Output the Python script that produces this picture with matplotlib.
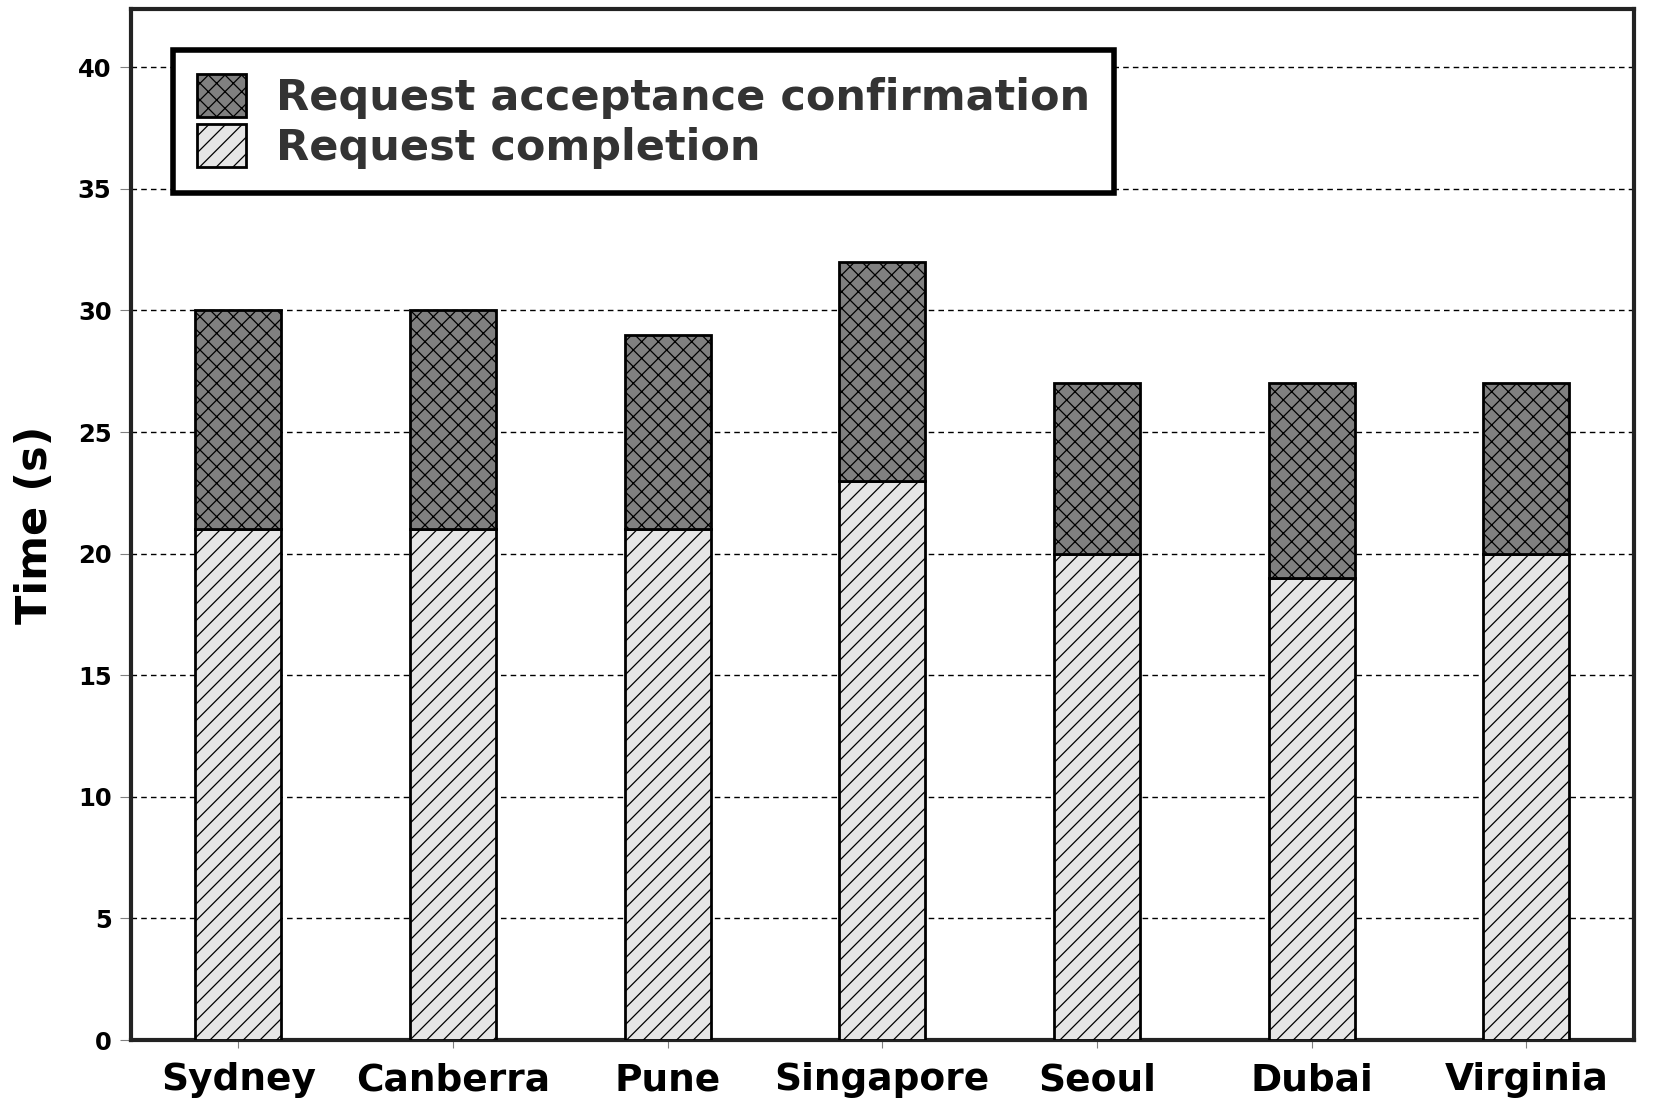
import numpy as np
import matplotlib
matplotlib.use("Agg")
import matplotlib.pyplot as plt

cities = ["Sydney", "Canberra", "Pune", "Singapore", "Seoul", "Dubai", "Virginia"]
completion = [21, 21, 21, 23, 20, 19, 20]
acceptance = [9, 9, 8, 9, 7, 8, 7]
yticks = [0, 5, 10, 15, 20, 25, 30, 35, 40]

plt.rcParams['hatch.linewidth'] = 0.9
plt.rcParams['font.family'] = ['DejaVu Sans']

fig = plt.figure(figsize=(16.67, 11.2), dpi=100)
ax = fig.add_axes([0.0786, 0.0714, 0.9014, 0.9206])

x = np.arange(len(cities))
w = 0.40
b1 = ax.bar(x, completion, w, color='#e6e6e6', edgecolor='black', hatch='//',
            linewidth=2, label='Request completion', zorder=3)
b2 = ax.bar(x, acceptance, w, bottom=completion, color='#808080', edgecolor='black',
            hatch='xx', linewidth=2, label='Request acceptance confirmation', zorder=3)

ax.set_xlim(-0.5, 6.5)
ax.set_ylim(0, 42.4)
ax.set_yticks(yticks)
ax.set_xticks(x)
ax.set_xticklabels(cities, fontsize=27, fontweight='bold')
ax.set_yticklabels([str(v) for v in yticks], fontsize=17.5, fontweight='bold')
ax.tick_params(axis='y', length=8, color='gray', pad=6)
ax.tick_params(axis='x', length=6, color='gray', pad=10)
ax.set_ylabel('Time (s)', fontsize=31, fontweight='bold', labelpad=16)

ax.yaxis.grid(True, linestyle=(0, (4, 3)), color='black', linewidth=1, zorder=0)
ax.set_axisbelow(True)
for s in ax.spines.values():
    s.set_linewidth(3)
    s.set_color('#222222')

leg = ax.legend([b2, b1], ['Request acceptance confirmation', 'Request completion'],
                loc='upper left', bbox_to_anchor=(0.028, 0.960), borderaxespad=0,
                prop={'weight': 'bold', 'size': 31}, fancybox=False, framealpha=1,
                edgecolor='black', handlelength=1.15, handleheight=1.15,
                handletextpad=0.7, labelspacing=0.12, borderpad=0.55)
leg.get_frame().set_linewidth(4)
for t in leg.get_texts():
    t.set_color('#333333')

fig.savefig('out.png', dpi=100)
